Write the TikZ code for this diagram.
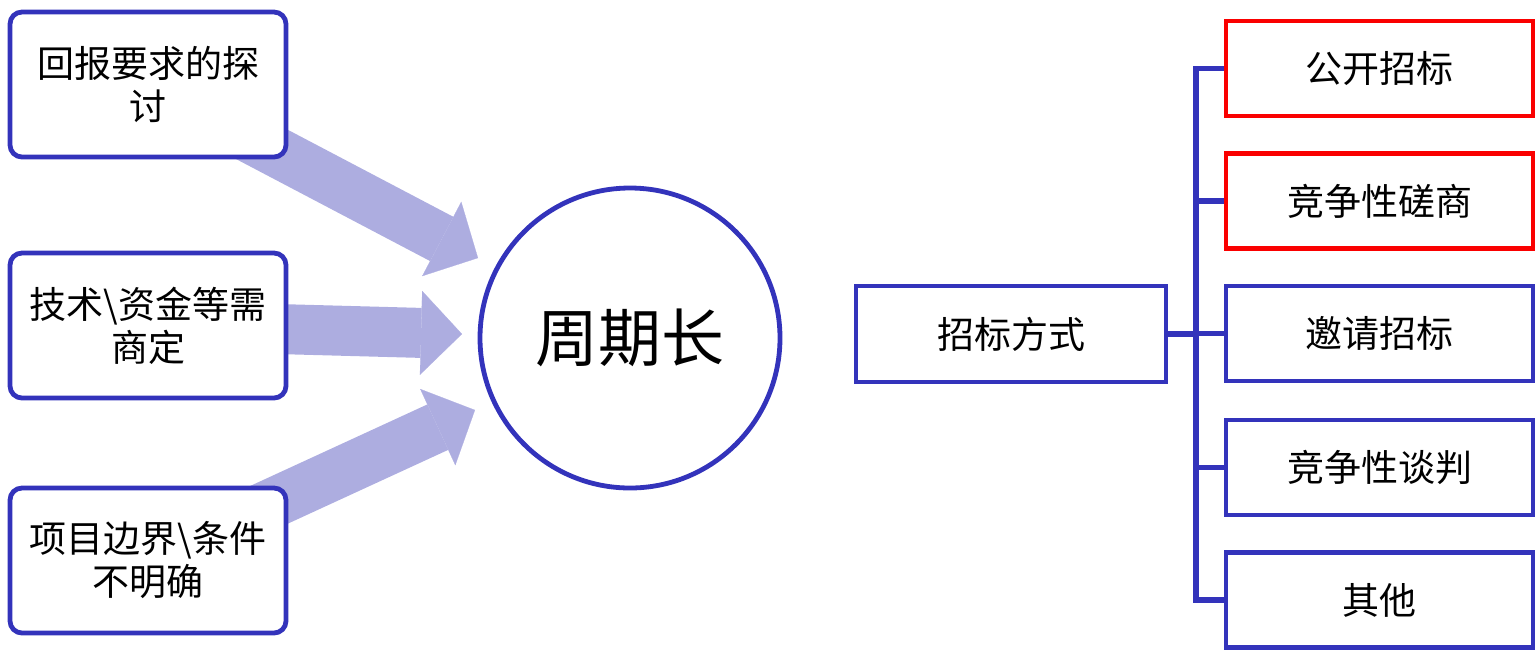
\documentclass[tikz,border=0pt]{standalone}
\usepackage{fontspec}
\newfontfamily\cjk{Noto Sans CJK SC}
\usetikzlibrary{arrows.meta,backgrounds}
\definecolor{bblue}{RGB}{51,51,187}
\definecolor{afill}{RGB}{173,173,224}
\definecolor{bred}{RGB}{250,0,0}
\begin{document}
\begin{tikzpicture}[x=0.5pt,y=-0.5pt,
  leftbox/.style={draw=bblue, line width=2.4pt, rounded corners=6pt, fill=white,
    minimum width=138pt, minimum height=72.5pt, align=center,
    font=\cjk\fontsize{18.5}{21.5}\selectfont},
  hub/.style={circle, draw=bblue, line width=2.4pt, fill=white, minimum size=150pt,
    inner sep=0pt, font=\cjk\fontsize{31.5}{31.5}\selectfont},
  mainbox/.style={draw=bblue, line width=2.4pt, fill=white, minimum width=155pt,
    minimum height=48pt, font=\cjk\fontsize{18.5}{21}\selectfont},
  rbox/.style={draw=bblue, line width=2.4pt, fill=white, minimum width=153.5pt,
    minimum height=47.5pt, font=\cjk\fontsize{18.5}{21}\selectfont},
  redbox/.style={rbox, draw=bred},
  fatarrow/.style={afill, line width=25pt,
    -{Triangle[length=20.5pt,width=42pt,line width=0.1pt]}},
  trunk/.style={bblue, line width=2.6pt, line join=miter}]
\useasboundingbox (0,0) rectangle (1536,650);

% left side
\node[leftbox] (b1) at (148,84.5) {回报要求的探\\讨};
\node[leftbox] (b2) at (148,325.5) {技术\textbackslash 资金等需\\商定};
\node[leftbox] (b3) at (148,560.5) {项目边界\textbackslash 条件\\不明确};
\node[hub] (c) at (630,338) {周期长};

\coordinate (t1) at (478,258);
\coordinate (t2) at (462,334);
\coordinate (t3) at (475,410);

\begin{scope}[on background layer]
  \draw[fatarrow] (b1.center) -- (t1);
  \draw[fatarrow] (b2.center) -- (t2);
  \draw[fatarrow] (b3.center) -- (t3);
\end{scope}

% right side
\node[mainbox] (m) at (1011,334) {招标方式};
\node[redbox] (r1) at (1379.5,68.5) {公开招标};
\node[redbox] (r2) at (1379.5,201) {竞争性磋商};
\node[rbox] (r3) at (1379.5,333.5) {邀请招标};
\node[rbox] (r4) at (1379.5,467.5) {竞争性谈判};
\node[rbox] (r5) at (1379.5,600) {其他};

\coordinate (j) at (1196,334);
\draw[trunk] (m.east) -- (j);
\draw[trunk] (r1.west) -| (j) |- (r5.west);
\draw[trunk] (r2.west) -- (r2.west -| j);
\draw[trunk] (r3.west) -- (r3.west -| j);
\draw[trunk] (r4.west) -- (r4.west -| j);
\end{tikzpicture}
\end{document}
